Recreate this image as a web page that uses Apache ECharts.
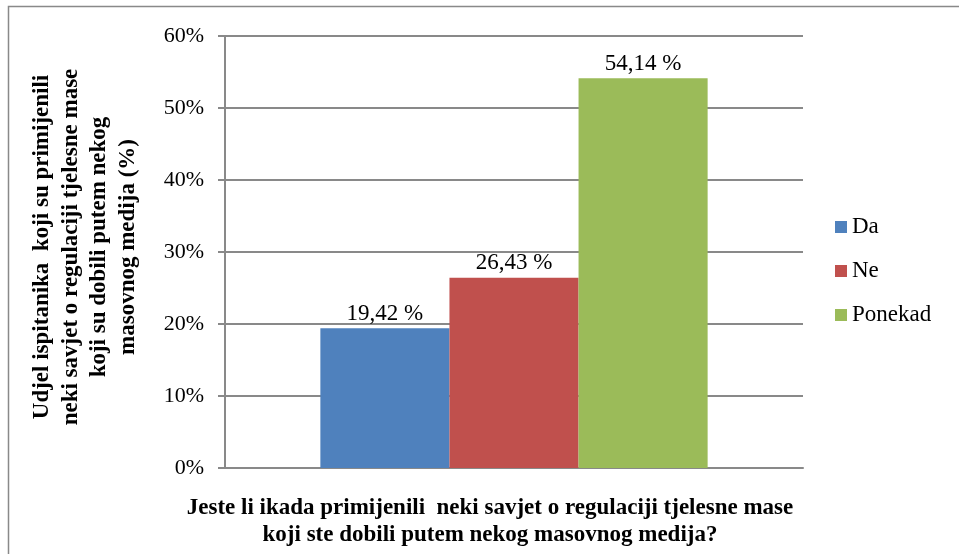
<!DOCTYPE html>
<html>
<head>
<meta charset="utf-8">
<script src="https://cdn.jsdelivr.net/npm/echarts@6/dist/echarts.min.js"></script>
<style>
  html, body { margin: 0; padding: 0; background: #fff; }
  #chart { width: 959px; height: 554px; }
</style>
</head>
<body>
<div id="chart"></div>
<script>
// podaci
var categories = [''];
var seriesNames = ['Da', 'Ne', 'Ponekad'];
var seriesValues = [19.42, 26.43, 54.14];
var seriesColors = ['#4f81bd', '#c0504d', '#9bbb59'];
var yTicks = [0, 10, 20, 30, 40, 50, 60];

var serif = '"Liberation Serif", "DejaVu Serif", serif';

var myChart = echarts.init(document.getElementById('chart'));

var series = seriesNames.map(function (name, i) {
  return {
    name: name,
    type: 'bar',
    data: [seriesValues[i]],
    barGap: '0%',
    barCategoryGap: '33%',
    itemStyle: { color: seriesColors[i] },
    label: {
      show: true,
      position: 'top',
      distance: 3,
      fontFamily: serif,
      fontSize: 23,
      color: '#000',
      formatter: function (p) {
        return p.value.toFixed(2).replace('.', ',') + ' %';
      }
    }
  };
});

var option = {
  animation: false,
  backgroundColor: '#fff',
  textStyle: { fontFamily: serif },
  grid: {
    left: 225,
    right: 156,
    top: 36,
    bottom: 86
  },
  legend: {
    orient: 'vertical',
    left: 835,
    top: 215,
    padding: 0,
    itemWidth: 12,
    itemHeight: 12,
    itemGap: 20,
    icon: 'rect',
    textStyle: { fontFamily: serif, fontSize: 23, lineHeight: 24, color: '#000' },
    data: seriesNames
  },
  xAxis: {
    type: 'category',
    data: categories,
    axisTick: { show: false },
    axisLabel: { show: false },
    axisLine: { lineStyle: { color: '#898989', width: 2 } }
  },
  yAxis: {
    type: 'value',
    min: yTicks[0],
    max: yTicks[yTicks.length - 1],
    interval: 10,
    axisLine: { show: true, lineStyle: { color: '#898989', width: 2 } },
    axisTick: { show: true, length: 7, lineStyle: { color: '#898989', width: 2 } },
    splitLine: { lineStyle: { color: '#898989', width: 2 } },
    axisLabel: {
      fontFamily: serif,
      fontSize: 22,
      color: '#000',
      margin: 21,
      formatter: '{value}%'
    }
  },
  graphic: [
    {
      type: 'rect',
      shape: { x: 8.5, y: 6.5, width: 980, height: 580 },
      style: { fill: 'none', stroke: '#898989', lineWidth: 1.5 },
      silent: true
    },
    {
      type: 'text',
      x: 85,
      y: 247,
      rotation: Math.PI / 2,
      style: {
        text: 'Udjel ispitanika  koji su primijenili\nneki savjet o regulaciji tjelesne mase\nkoji su dobili putem nekog\nmasovnog medija (%)',
        fontFamily: serif,
        fontWeight: 'bold',
        fontSize: 23,
        lineHeight: 28.5,
        fill: '#000',
        align: 'center',
        verticalAlign: 'middle'
      }
    },
    {
      type: 'text',
      x: 490,
      y: 522,
      style: {
        text: 'Jeste li ikada primijenili  neki savjet o regulaciji tjelesne mase\nkoji ste dobili putem nekog masovnog medija?',
        fontFamily: serif,
        fontWeight: 'bold',
        fontSize: 23,
        lineHeight: 27,
        fill: '#000',
        align: 'center',
        verticalAlign: 'middle'
      }
    }
  ],
  series: series
};

myChart.setOption(option);
</script>
</body>
</html>
